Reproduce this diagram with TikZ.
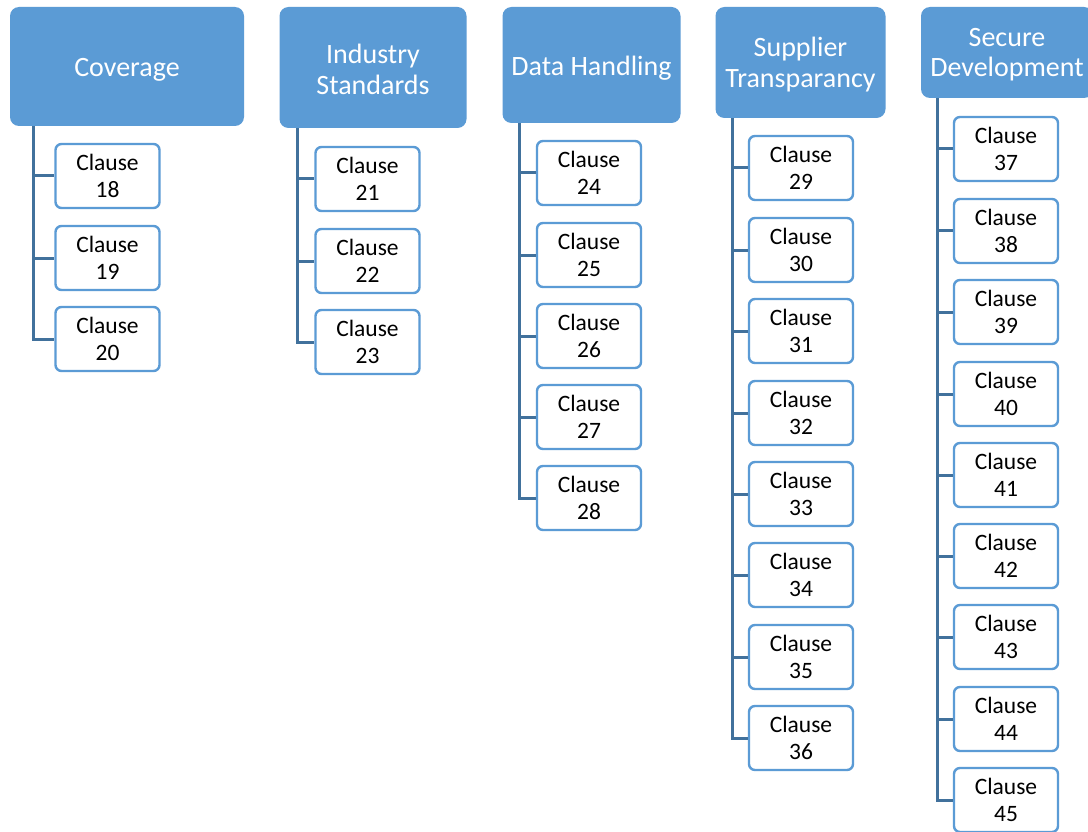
\documentclass[tikz,border=0pt]{standalone}
\usepackage{fontspec}
\setmainfont{Carlito}
\definecolor{hdrblue}{HTML}{5B9BD5}
\definecolor{connblue}{HTML}{41719C}
\begin{document}
\begin{tikzpicture}[x=1pt,y=-1pt,
  hdr/.style={rounded corners=9pt, fill=hdrblue, draw=none, inner sep=0pt},
  hdrtext/.style={text=white, align=center, inner sep=0pt,
    font=\fontsize{28}{30.5}\selectfont},
  clause/.style={rounded corners=6pt, fill=white, draw=hdrblue, line width=2.4pt,
    minimum width=104pt, minimum height=64pt, align=center, inner sep=0pt,
    font=\fontsize{23.5}{27}\selectfont},
  conn/.style={draw=connblue, line width=3pt}]
\clip (0,0) rectangle (1088,832);
\fill[white] (0,0) rectangle (1088,832);
% headers
\node[hdr, minimum width=234pt, minimum height=119pt] (h1) at (127,66.5) {};
\node[hdr, minimum width=187pt, minimum height=121pt] (h2) at (373,67.5) {};
\node[hdr, minimum width=178pt, minimum height=116pt] (h3) at (591.5,65) {};
\node[hdr, minimum width=170pt, minimum height=111pt] (h4) at (800.5,62.5) {};
\node[hdr, minimum width=172pt, minimum height=91pt] (h5) at (1007,52.5) {};
\node[hdrtext] (t1) at ([yshift=-3pt]h1.center) {Coverage};
\node[hdrtext] (t2) at ([yshift=-2pt]h2.center) {Industry\\Standards};
\node[hdrtext] (t3) at ([yshift=-3pt]h3.center) {Data Handling};
\node[hdrtext] (t4) at ([yshift=-2pt]h4.center) {Supplier\\Transparancy};
\node[hdrtext] (t5) at ([yshift=-2pt]h5.center) {Secure\\Development};
% trunk coordinates
\coordinate (l1) at (33,0);
\coordinate (l2) at (297,0);
\coordinate (l3) at (519,0);
\coordinate (l4) at (732,0);
\coordinate (l5) at (937,0);
% column 1
\foreach \num/\top in {18/143,19/225,20/306}{
  \node[clause] (b\num) at (107.5,\top+33) {Clause\\\num};
  \draw[conn] (h1.south -| l1) |- (b\num.west);
}
% column 2
\foreach \num/\top in {21/146,22/228,23/309}{
  \node[clause] (b\num) at (367.5,\top+33) {Clause\\\num};
  \draw[conn] (h2.south -| l2) |- (b\num.west);
}
% column 3
\foreach \num/\top in {24/140,25/222,26/303,27/384,28/465}{
  \node[clause] (b\num) at (589,\top+33) {Clause\\\num};
  \draw[conn] (h3.south -| l3) |- (b\num.west);
}
% column 4
\foreach \num/\top in {29/135,30/217,31/298,32/380,33/461,34/542,35/624,36/705}{
  \node[clause] (b\num) at (801,\top+33) {Clause\\\num};
  \draw[conn] (h4.south -| l4) |- (b\num.west);
}
% column 5
\foreach \num/\top in {37/116,38/198,39/279,40/361,41/442,42/523,43/604,44/686,45/767}{
  \node[clause] (b\num) at (1006,\top+33) {Clause\\\num};
  \draw[conn] (h5.south -| l5) |- (b\num.west);
}
\end{tikzpicture}
\end{document}
